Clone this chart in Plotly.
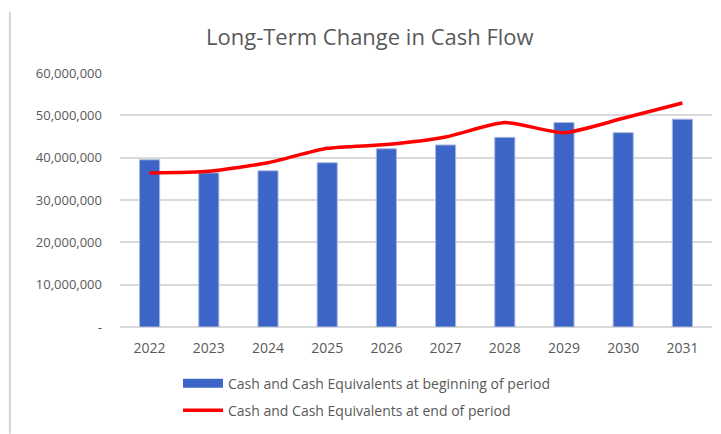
import plotly.graph_objects as go

# Fiscal years on the category axis
years = ["2022", "2023", "2024", "2025", "2026", "2027", "2028", "2029", "2030", "2031"]

# Cash balances (in currency units)
cash_beginning = [39_500_000, 36_400_000, 36_900_000, 38_800_000, 42_100_000,
                  43_000_000, 44_800_000, 48_300_000, 45_900_000, 49_100_000]
cash_end = [36_400_000, 36_800_000, 38_800_000, 42_200_000, 43_100_000,
            44_900_000, 48_300_000, 45_900_000, 49_300_000, 52_900_000]

# Value axis ticks
y_tickvals = [0, 10_000_000, 20_000_000, 30_000_000, 40_000_000, 50_000_000, 60_000_000]
y_ticktext = ["-", "10,000,000", "20,000,000", "30,000,000", "40,000,000", "50,000,000", "60,000,000"]

FONT = "'Open Sans', Lato, sans-serif"
GREY = "#595959"
BAR_BLUE = "#3d64c7"
LINE_RED = "#ff0000"

NAME_BEGIN = "Cash and Cash Equivalents at beginning of period"
NAME_END = "Cash and Cash Equivalents at end of period"

fig = go.Figure()
fig.add_trace(go.Bar(
    x=years, y=cash_beginning,
    name=NAME_BEGIN,
    marker=dict(color=BAR_BLUE, line=dict(color="#a9b9dc", width=1)),
    width=0.34,
    showlegend=False,
))
fig.add_trace(go.Scatter(
    x=years, y=cash_end,
    name=NAME_END,
    mode="lines",
    line=dict(color=LINE_RED, width=3.5, shape="spline", smoothing=0.6),
    showlegend=False,
))

# Legend keys: a wide blue swatch for the bars, a red stroke for the line
fig.add_trace(go.Scatter(
    x=[None], y=[None], name=NAME_BEGIN, mode="lines",
    line=dict(color=BAR_BLUE, width=9), legendgroup="begin",
))
fig.add_trace(go.Scatter(
    x=[None], y=[None], name=NAME_END, mode="lines",
    line=dict(color=LINE_RED, width=3.5), legendgroup="end",
))

fig.update_layout(
    width=721, height=434,
    margin=dict(l=120, r=9, t=73, b=106),
    paper_bgcolor="white", plot_bgcolor="white",
    font=dict(family=FONT, color=GREY, size=13),
    title=dict(
        text="Long-Term Change in Cash Flow",
        x=0.422, xanchor="center", xref="paper",
        y=0.915, yanchor="middle", yref="container",
        font=dict(size=22, color=GREY, family=FONT),
    ),
    showlegend=True,
    legend=dict(
        orientation="v",
        x=0.098, xanchor="left",
        y=-0.155, yanchor="top",
        font=dict(size=14, color=GREY, family=FONT),
        itemwidth=40,
        tracegroupgap=6,
        bgcolor="rgba(0,0,0,0)",
    ),
    bargap=0.66,
)

fig.update_xaxes(
    type="category",
    showgrid=False, showline=False, zeroline=False,
    tickfont=dict(size=14, color=GREY),
    ticks="", ticklabelstandoff=11,
)
fig.update_yaxes(
    range=[0, 60_000_000],
    tickvals=y_tickvals, ticktext=y_ticktext,
    showgrid=True, gridcolor="#d9d9d9", gridwidth=1.5,
    zeroline=True, zerolinecolor="#d9d9d9", zerolinewidth=1.5,
    showline=False,
    tickfont=dict(size=13, color=GREY),
    ticks="", ticklabelstandoff=17,
)

# Thin frame line along the left edge of the chart
fig.add_shape(type="line", xref="paper", yref="paper",
              x0=-0.186, x1=-0.186, y0=-0.42, y1=1.24,
              line=dict(color="#c8c8c8", width=1.5))

fig.write_html("out.html")
